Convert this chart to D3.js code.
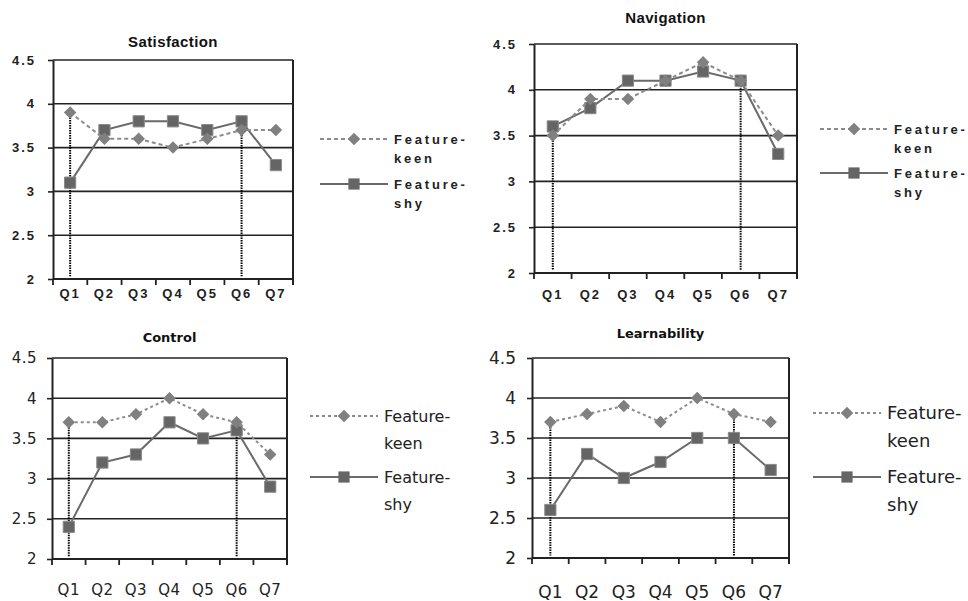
<!DOCTYPE html>
<html>
<head>
<meta charset="utf-8">
<script src="https://cdn.jsdelivr.net/npm/d3@7"></script>
<style>
  body { margin: 0; background: #fff; }
  svg { display: block; }
</style>
</head>
<body>
<svg id="chart" width="968" height="601"></svg>
<script>
// data
var questions = ["Q1", "Q2", "Q3", "Q4", "Q5", "Q6", "Q7"];
var yTicks = [2, 2.5, 3, 3.5, 4, 4.5];

var satisfactionKeen = [3.9, 3.6, 3.6, 3.5, 3.6, 3.7, 3.7];
var satisfactionShy  = [3.1, 3.7, 3.8, 3.8, 3.7, 3.8, 3.3];
var navigationKeen   = [3.5, 3.9, 3.9, 4.1, 4.3, 4.1, 3.5];
var navigationShy    = [3.6, 3.8, 4.1, 4.1, 4.2, 4.1, 3.3];
var controlKeen      = [3.7, 3.7, 3.8, 4.0, 3.8, 3.7, 3.3];
var controlShy       = [2.4, 3.2, 3.3, 3.7, 3.5, 3.6, 2.9];
var learnKeen        = [3.7, 3.8, 3.9, 3.7, 4.0, 3.8, 3.7];
var learnShy         = [2.6, 3.3, 3.0, 3.2, 3.5, 3.5, 3.1];

// questions that get the dotted drop line
var dropQuestions = ["Q1", "Q6"];

var svg = d3.select("#chart");

var arial = "'Liberation Sans', Arial, sans-serif";
var deja = "'DejaVu Sans', Verdana, sans-serif";

var panels = [
    { title: "Satisfaction", keen: satisfactionKeen, shy: satisfactionShy,
      left: 53, right: 293, top: 60, bottom: 279, titleY: 47, titleSize: 15, titleSpacing: "0.4px",
      font: arial, tickSize: 13, tickWeight: "bold", tickSpacing: "2px", tickPad: 12, xDy: 19,
      legX: 320, legY1: 139, legY2: 184, legSize: 13, legSpacing: "2.8px", legWeight: "bold", legLine: 19,
      keenDash: "4,3" },
    { title: "Navigation", keen: navigationKeen, shy: navigationShy,
      left: 534, right: 797, top: 44, bottom: 273, titleY: 23, titleSize: 15, titleSpacing: "0.4px",
      font: arial, tickSize: 13, tickWeight: "bold", tickSpacing: "2px", tickPad: 12, xDy: 26,
      legX: 820, legY1: 129, legY2: 173, legSize: 13, legSpacing: "2.8px", legWeight: "bold", legLine: 19,
      keenDash: "4,3" },
    { title: "Control", keen: controlKeen, shy: controlShy,
      left: 52, right: 287, top: 358, bottom: 559, titleY: 342, titleSize: 13, titleSpacing: "0px",
      font: deja, tickSize: 15, tickWeight: "normal", tickSpacing: "0.5px", tickPad: 10, xDy: 36,
      legX: 310, legY1: 416, legY2: 477, legSize: 16, legSpacing: "0px", legWeight: "normal", legLine: 27,
      keenDash: "3,3" },
    { title: "Learnability", keen: learnKeen, shy: learnShy,
      left: 532, right: 789, top: 358, bottom: 558, titleY: 338, titleSize: 13, titleSpacing: "0px",
      font: deja, tickSize: 17, tickWeight: "normal", tickSpacing: "0px", tickPad: 11, xDy: 40,
      legX: 813, legY1: 413, legY2: 477, legSize: 18, legSpacing: "0px", legWeight: "normal", legLine: 28,
      keenDash: "3,3" }
];

var diamond = d3.symbol().type(d3.symbolDiamond2);
var square = d3.symbol().type(d3.symbolSquare2);

var drawPanel = function(p) {
    var g = svg.append("g");
    var x = d3.scaleBand().domain(questions).range([p.left, p.right]);
    var y = d3.scaleLinear().domain([2, 4.5]).range([p.bottom, p.top]);
    var cx = function(d, i) { return x(questions[i]) + x.bandwidth() / 2; };

    // title
    g.append("text")
        .attr("x", (p.left + p.right) / 2)
        .attr("y", p.titleY)
        .attr("text-anchor", "middle")
        .style("font-family", p.font)
        .style("font-size", p.titleSize + "px")
        .style("font-weight", "bold")
        .style("letter-spacing", p.titleSpacing)
        .attr("fill", "#111")
        .text(p.title);

    // horizontal grid lines
    g.selectAll(".grid")
        .data(yTicks.slice(1))
        .enter().append("line")
        .attr("x1", p.left).attr("x2", p.right)
        .attr("y1", function(d) { return y(d); })
        .attr("y2", function(d) { return y(d); })
        .attr("stroke", "#222")
        .attr("stroke-width", 1.6);

    // left axis
    var yAxis = g.append("g")
        .attr("transform", "translate(" + p.left + ",0)")
        .call(d3.axisLeft(y).tickValues(yTicks).tickFormat(d3.format("~g"))
              .tickSize(5).tickPadding(p.tickPad).tickSizeOuter(0));
    yAxis.select(".domain").attr("stroke", "#222").attr("stroke-width", 2);
    yAxis.selectAll(".tick line").attr("stroke", "#222").attr("stroke-width", 1.6);
    yAxis.selectAll("text")
        .attr("fill", "#222")
        .style("font-family", p.font)
        .style("font-size", p.tickSize + "px")
        .style("font-weight", p.tickWeight)
        .style("letter-spacing", p.tickSpacing);

    // right border
    g.append("line")
        .attr("x1", p.right).attr("x2", p.right)
        .attr("y1", y(4.5)).attr("y2", y(2) + 6)
        .attr("stroke", "#222").attr("stroke-width", 2);

    // bottom axis, ticks sit between the questions
    g.append("line")
        .attr("x1", p.left).attr("x2", p.right)
        .attr("y1", p.bottom).attr("y2", p.bottom)
        .attr("stroke", "#222").attr("stroke-width", 2);
    var bounds = questions.map(function(q) { return x(q); }).concat([p.right]);
    g.selectAll(".xtick")
        .data(bounds)
        .enter().append("line")
        .attr("x1", function(d) { return d; })
        .attr("x2", function(d) { return d; })
        .attr("y1", p.bottom).attr("y2", p.bottom + 6)
        .attr("stroke", "#222").attr("stroke-width", 1.8);
    g.selectAll(".xlabel")
        .data(questions)
        .enter().append("text")
        .attr("x", function(d) { return x(d) + x.bandwidth() / 2; })
        .attr("y", p.bottom + p.xDy)
        .attr("text-anchor", "middle")
        .attr("fill", "#222")
        .style("font-family", p.font)
        .style("font-size", p.tickSize + "px")
        .style("font-weight", p.tickWeight)
        .style("letter-spacing", p.tickSpacing)
        .text(function(d) { return d; });

    // dotted drop lines
    g.selectAll(".drop")
        .data(dropQuestions)
        .enter().append("line")
        .attr("x1", function(d) { return x(d) + x.bandwidth() / 2; })
        .attr("x2", function(d) { return x(d) + x.bandwidth() / 2; })
        .attr("y1", function(d) { return y(p.keen[questions.indexOf(d)]); })
        .attr("y2", y(2.03))
        .attr("stroke", "#000")
        .attr("stroke-width", 2)
        .attr("stroke-dasharray", "1.5,1");

    var line = d3.line().x(cx).y(function(d) { return y(d); });

    // feature-shy
    g.append("path")
        .attr("d", line(p.shy))
        .attr("fill", "none")
        .attr("stroke", "#6a6a6a")
        .attr("stroke-width", 2);
    g.selectAll(".sq")
        .data(p.shy)
        .enter().append("path")
        .attr("d", square.size(160))
        .attr("transform", function(d, i) { return "translate(" + cx(d, i) + "," + y(d) + ")"; })
        .attr("fill", "#656565")
        .attr("stroke", "#8a8a8a")
        .attr("stroke-width", 1);

    // feature-keen
    g.append("path")
        .attr("d", line(p.keen))
        .attr("fill", "none")
        .attr("stroke", "#8c8c8c")
        .attr("stroke-width", 2)
        .attr("stroke-dasharray", p.keenDash);
    g.selectAll(".dm")
        .data(p.keen)
        .enter().append("path")
        .attr("d", diamond.size(100))
        .attr("transform", function(d, i) { return "translate(" + cx(d, i) + "," + y(d) + ")"; })
        .attr("fill", "#808080");

    // legend
    var legend = [
        { y: p.legY1, dash: p.keenDash, color: "#8c8c8c", sym: diamond.size(100), fill: "#808080", lines: ["Feature-", "keen"] },
        { y: p.legY2, dash: null, color: "#6a6a6a", sym: square.size(160), fill: "#656565", lines: ["Feature-", "shy"] }
    ];
    legend.forEach(function(l) {
        g.append("line")
            .attr("x1", p.legX).attr("x2", p.legX + 68)
            .attr("y1", l.y).attr("y2", l.y)
            .attr("stroke", l.color).attr("stroke-width", 2)
            .attr("stroke-dasharray", l.dash);
        g.append("path")
            .attr("d", l.sym)
            .attr("transform", "translate(" + (p.legX + 34) + "," + l.y + ")")
            .attr("fill", l.fill);
        g.selectAll(null)
            .data(l.lines)
            .enter().append("text")
            .attr("x", p.legX + 74)
            .attr("y", function(d, i) { return l.y + i * p.legLine; })
            .attr("dy", "0.36em")
            .attr("fill", "#222")
            .style("font-family", p.font)
            .style("font-size", p.legSize + "px")
            .style("font-weight", p.legWeight)
            .style("letter-spacing", p.legSpacing)
            .text(function(d) { return d; });
    });
};

panels.forEach(drawPanel);
</script>
</body>
</html>
